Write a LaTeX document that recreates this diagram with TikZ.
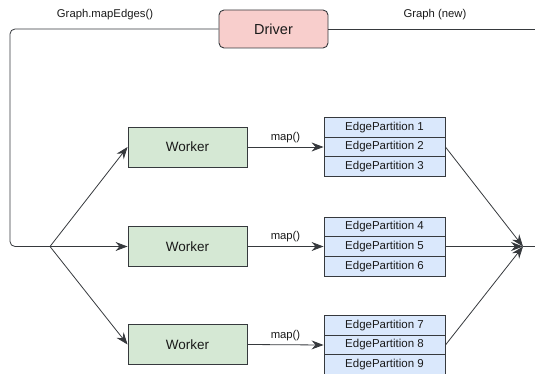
\documentclass[tikz,border=0pt]{standalone}
\usepackage{fontspec}
\setmainfont{Liberation Sans}
\usetikzlibrary{arrows.meta}
\definecolor{drvfill}{HTML}{F8CECC}
\definecolor{wrkfill}{HTML}{D5E8D4}
\definecolor{partfill}{HTML}{DAE8FC}
\definecolor{linecol}{HTML}{36393D}
\definecolor{txtcol}{HTML}{1A1A1A}
\begin{document}
\begin{tikzpicture}[x=1pt,y=-1pt,
  every node/.style={text=txtcol, inner sep=0pt},
  box/.style={draw=linecol, line width=0.9pt},
  driverbox/.style={box, fill=drvfill, rounded corners=5pt, minimum width=109pt, minimum height=38pt,
    font=\fontsize{14.5}{16}\selectfont},
  workerbox/.style={box, fill=wrkfill, minimum width=119pt, minimum height=40pt,
    font=\fontsize{13.5}{15}\selectfont},
  partbox/.style={box, fill=partfill, minimum width=121pt, minimum height=19.7pt,
    font=\fontsize{11.5}{13}\selectfont},
  lbl/.style={font=\fontsize{11.3}{13}\selectfont},
  conn/.style={draw=linecol, line width=0.8pt},
  arr/.style={conn, -{Stealth[length=12pt, width=9pt, inset=4pt]}}
]
\useasboundingbox (0,0) rectangle (535,374);
\clip (0,0) rectangle (535,374);

% driver and its outgoing / incoming lines
\node[driverbox] (drv) at (273.5,29) {Driver};
\coordinate (lft) at (10,246.5);
\coordinate (split) at (50,246.5);
\coordinate (outtop) at (535,29);
\draw[conn, rounded corners=5pt] (drv.west) -| (lft) -- (split);
\draw[conn] (drv.east) -- (outtop);
\node[lbl] (lmap) at (105,15) {Graph.mapEdges()};
\node[lbl] (lnew) at (435,15) {Graph (new)};

% workers
\node[workerbox] (w1) at (187.5,147) {Worker};
\node[workerbox] (w2) at (187.5,246.5) {Worker};
\node[workerbox] (w3) at (187.5,344.5) {Worker};

% edge partitions, three per worker
\foreach \g/\cy in {0/147, 1/246.5, 2/345} {
  \foreach \r in {1,2,3} {
    \pgfmathtruncatemacro{\k}{3*\g+\r}
    \node[partbox] (p\k) at (384.5,{\cy+(\r-2)*19.7}) {EdgePartition \k};
  }
}

% fan-out from the driver
\foreach \w in {w1,w2,w3} \draw[arr] (split) -- (\w.west);

% map() steps
\foreach \w/\p in {w1/p2, w2/p5, w3/p8} {
  \draw[arr] (\w.east) -- (\p.west) node[lbl, pos=0.5, above=4pt] {map()};
}

% merge into the new graph
\coordinate (merge) at (523,246.5);
\coordinate (outright) at (535,246.5);
\foreach \p in {p2,p5,p8} \draw[arr] (\p.east) -- (merge);
\draw[conn] (merge) -- (outright);
\end{tikzpicture}
\end{document}
